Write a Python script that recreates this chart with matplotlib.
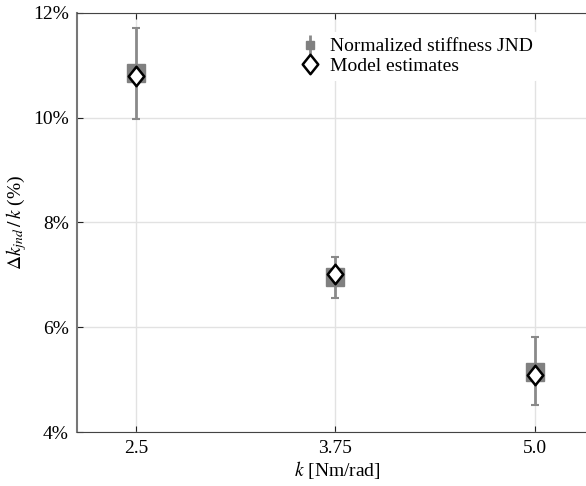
import matplotlib
matplotlib.use("Agg")
import matplotlib.pyplot as plt
import numpy as np
from matplotlib.ticker import FuncFormatter
from matplotlib.path import Path

plt.rcParams['font.family'] = ['Liberation Serif', 'DejaVu Serif']
plt.rcParams['mathtext.fontset'] = 'stix'

stiffness = [2.5, 3.75, 5.0]
jnd_mean = [10.85, 6.96, 5.15]
jnd_upper = [11.72, 7.35, 5.82]
jnd_lower = [9.98, 6.56, 4.51]
model_est = [10.80, 7.01, 5.09]
tick_labels = ['2.5', '3.75', '5.0']

fig = plt.figure(figsize=(5.86, 4.86), dpi=100)
ax = fig.add_axes([0.1314, 0.1111, 0.89, 0.8622])

err = [np.array(jnd_mean) - np.array(jnd_lower), np.array(jnd_upper) - np.array(jnd_mean)]
ax.errorbar(stiffness, jnd_mean, yerr=err, fmt='s', color='#808080', ecolor='#8a8a8a',
            markersize=13.5, elinewidth=2, capsize=3, capthick=1.5, zorder=3)
diamond = Path([(0, 1), (0.8, 0), (0, -1), (-0.8, 0), (0, 1)],
               [Path.MOVETO, Path.LINETO, Path.LINETO, Path.LINETO, Path.CLOSEPOLY])
dline, = ax.plot(stiffness, model_est, linestyle='none', marker=diamond, markersize=14,
                 markerfacecolor='white', markeredgecolor='black', markeredgewidth=1.8, zorder=4)

# legend proxy for the error-bar series (smaller marker as in reference)
proxy = ax.errorbar([], [], yerr=[], fmt='s', color='#808080', ecolor='#8a8a8a',
                    markersize=6, elinewidth=2, capsize=3, capthick=1.5)

ax.set_xlim(2.131, 5.4)
ax.set_ylim(4, 12)
ax.set_xticks(stiffness)
ax.set_xticklabels(tick_labels)
ax.set_yticks([4, 6, 8, 10, 12])
ax.yaxis.set_major_formatter(FuncFormatter(lambda v, p: f'{v:.0f}%'))
ax.grid(True, color='#e2e2e2', linewidth=1)
ax.set_axisbelow(True)
ax.tick_params(direction='in', top=True, right=False, labelsize=14, length=4, color='#222222', pad=6)
for s in ['left', 'bottom', 'top', 'right']:
    ax.spines[s].set_color('#444444')
ax.spines['left'].set_color('#777777')
ax.spines['left'].set_linewidth(1.5)

ax.set_xlabel(r'$k$ [Nm/rad]', fontsize=14, labelpad=1)
ax.set_ylabel(r'$\Delta k_{jnd}\,/\,k$ (%)', fontsize=14, labelpad=3)

leg = ax.legend([proxy, dline], ['Normalized stiffness JND', 'Model estimates'],
                loc='upper left', bbox_to_anchor=(0.399, 0.978), frameon=True, fontsize=14,
                handlelength=1.0, handletextpad=0.5, borderpad=0.3, labelspacing=0.1)
leg.get_frame().set_edgecolor('none')
leg.get_frame().set_facecolor('white')
leg.get_frame().set_alpha(1)

fig.savefig('out.png', dpi=100)
